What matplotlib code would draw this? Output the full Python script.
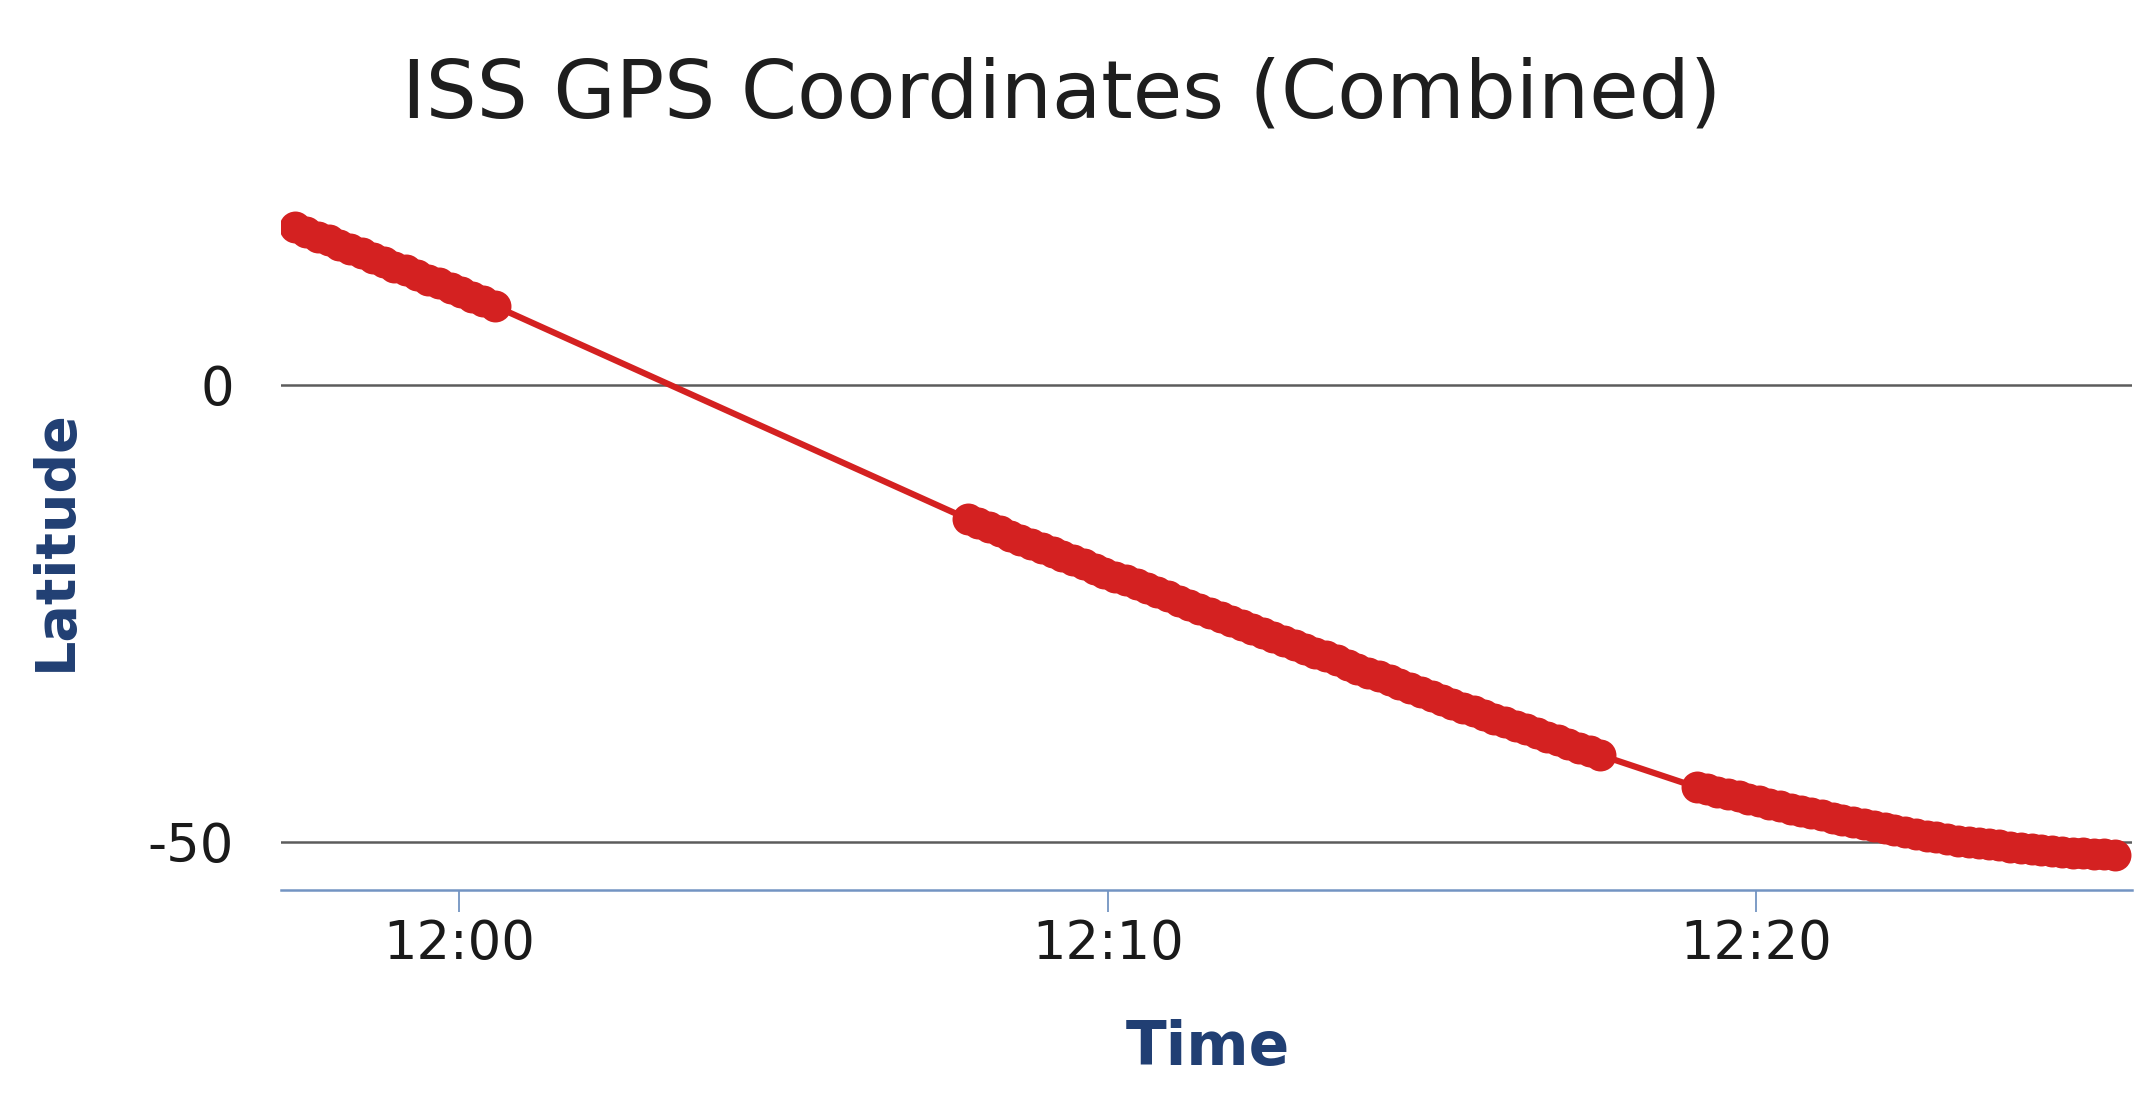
import matplotlib
matplotlib.use("Agg")
import matplotlib.pyplot as plt
import matplotlib.dates as mdates
import pandas as pd

# ---- data ----
seg1_times = ["11:57:28", "11:57:38", "11:57:49", "11:57:59", "11:58:09", "11:58:19",
              "11:58:30", "11:58:40", "11:58:50", "11:59:00", "11:59:11", "11:59:21",
              "11:59:31", "11:59:41", "11:59:52", "12:00:02", "12:00:12", "12:00:22",
              "12:00:33"]
seg1_lat = [17.2, 16.7, 16.2, 15.8, 15.3, 14.8, 14.4, 13.9, 13.4, 12.9, 12.5, 12.0,
            11.5, 11.1, 10.6, 10.1, 9.6, 9.1, 8.6]

seg2_times = ["12:07:51", "12:08:00", "12:08:10", "12:08:20", "12:08:30", "12:08:39",
              "12:08:49", "12:08:59", "12:09:09", "12:09:18",
              "12:09:28", "12:09:38", "12:09:48", "12:09:57", "12:10:07", "12:10:17",
              "12:10:27", "12:10:36", "12:10:46", "12:10:56",
              "12:11:06", "12:11:15", "12:11:25", "12:11:35", "12:11:45", "12:11:54",
              "12:12:04", "12:12:14", "12:12:24", "12:12:33",
              "12:12:43", "12:12:53", "12:13:03", "12:13:12", "12:13:22", "12:13:32",
              "12:13:42", "12:13:51", "12:14:01", "12:14:11",
              "12:14:21", "12:14:30", "12:14:40", "12:14:50", "12:15:00", "12:15:09",
              "12:15:19", "12:15:29", "12:15:39", "12:15:48",
              "12:15:58", "12:16:08", "12:16:18", "12:16:27", "12:16:37", "12:16:47",
              "12:16:57", "12:17:06", "12:17:16", "12:17:26",
              "12:17:36"]
seg2_lat = [-14.7, -15.15, -15.6, -16.05, -16.5, -16.95, -17.4, -17.85, -18.3, -18.75,
            -19.2, -19.65, -20.1, -20.55, -21.0, -21.4, -21.8, -22.25, -22.7, -23.15,
            -23.6, -24.05, -24.5, -24.95, -25.4, -25.85, -26.3, -26.75, -27.2, -27.6,
            -28.0, -28.45, -28.9, -29.3, -29.7, -30.15, -30.6, -31.05, -31.5, -31.9,
            -32.3, -32.75, -33.2, -33.6, -34.0, -34.45, -34.9, -35.3, -35.7, -36.1,
            -36.5, -36.9, -37.3, -37.7, -38.1, -38.5, -38.9, -39.3, -39.7, -40.1,
            -40.5]

seg3_times = ["12:19:05", "12:19:15", "12:19:24", "12:19:34", "12:19:44", "12:19:53",
              "12:20:03", "12:20:12", "12:20:22", "12:20:32",
              "12:20:42", "12:20:51", "12:21:01", "12:21:11", "12:21:20", "12:21:30",
              "12:21:40", "12:21:49", "12:21:59", "12:22:08",
              "12:22:18", "12:22:28", "12:22:38", "12:22:47", "12:22:57", "12:23:07",
              "12:23:17", "12:23:26", "12:23:36", "12:23:45",
              "12:23:55", "12:24:05", "12:24:15", "12:24:24", "12:24:34", "12:24:43",
              "12:24:53", "12:25:03", "12:25:13", "12:25:22",
              "12:25:32"]
seg3_lat = [-44.0, -44.25, -44.5, -44.75, -45.0, -45.25, -45.5, -45.8, -46.1, -46.35,
            -46.6, -46.85, -47.1, -47.35, -47.6, -47.8, -48.0, -48.25, -48.5, -48.7,
            -48.9, -49.1, -49.3, -49.5, -49.7, -49.85, -50.0, -50.1, -50.2, -50.35,
            -50.5, -50.65, -50.8, -50.9, -51.0, -51.1, -51.2, -51.25, -51.3, -51.35,
            -51.4]

y_ticks = [0, -50]
y_ticklabels = ["0", "-50"]
x_ticks = ["12:00:00", "12:10:00", "12:20:00"]
x_range = ["11:57:15", "12:25:48"]
y_range = [-55.25, 22.6]

title = "ISS GPS Coordinates (Combined)"
xlabel = "Time"
ylabel = "Latitude"

DAY = "2020-01-01 "


def to_dt(lst):
    return pd.to_datetime([DAY + s for s in lst])


times = to_dt(seg1_times + seg2_times + seg3_times)
lats = seg1_lat + seg2_lat + seg3_lat

# ---- figure ----
W, H = 2153, 1094
fig = plt.figure(figsize=(W / 100, H / 100), dpi=100)
ax = fig.add_axes([281 / W, 1 - 890 / H, (2132 - 281) / W, (890 - 178) / H])

red = "#d42121"
ax.plot(times, lats, color=red, lw=4.5, marker="o", markersize=23,
        markeredgewidth=0, zorder=3)

ax.set_xlim(to_dt(x_range))
ax.set_ylim(*y_range)

ax.set_yticks(y_ticks)
ax.set_yticklabels(y_ticklabels)
ax.set_xticks(to_dt(x_ticks))
ax.xaxis.set_major_formatter(mdates.DateFormatter("%H:%M"))

for s in ["top", "right", "left"]:
    ax.spines[s].set_visible(False)
ax.spines["bottom"].set_color("#7394c2")
ax.spines["bottom"].set_linewidth(1.8)

ax.yaxis.grid(True, color="#5c5c5c", lw=1.8, zorder=1)
ax.set_axisbelow(True)

ax.tick_params(axis="y", length=0, pad=34, labelsize=38, labelcolor="#1a1a1a")
ax.tick_params(axis="x", length=16, width=1.3, color="#7394c2", pad=4,
               labelsize=38, labelcolor="#1a1a1a")

fig.text(1062 / W, 1 - 117 / H, title, ha="center", va="baseline",
         fontsize=58, color="#1e1e1e")
fig.text(1208 / W, 1 - 1065 / H, xlabel, ha="center", va="baseline",
         fontsize=43, fontweight="bold", color="#213f73")
fig.text(56 / W, 1 - 540 / H, ylabel, ha="center", va="center", rotation=90,
         fontsize=40, fontweight="bold", color="#213f73")

fig.savefig("out.png", dpi=100)
